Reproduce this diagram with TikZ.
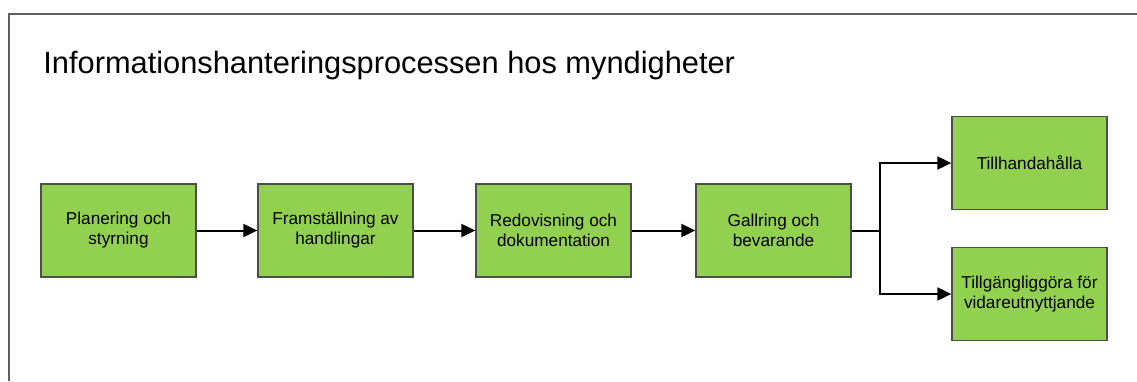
\documentclass[tikz,border=0pt]{standalone}
\usepackage{fontspec}
\setmainfont{Liberation Sans}
\usetikzlibrary{arrows.meta}
\definecolor{boxgreen}{HTML}{92D050}
\definecolor{boxline}{HTML}{4D4D4D}
\definecolor{frameline}{HTML}{5F5F5F}
\begin{document}
\begin{tikzpicture}[x=1pt,y=-1pt,
  thick,main node/.style={rectangle,draw=boxline,line width=1.3pt,fill=boxgreen,
    minimum width=155pt,minimum height=93pt,inner sep=0pt,align=center,
    font=\fontsize{17.2}{20}\selectfont},
  flow/.style={line width=2pt,-{Triangle[length=14pt,width=13pt]}}]

  \useasboundingbox (0,0) rectangle (1137,381);
  \draw[frameline,line width=2pt] (9,381) -- (9,13.5) -- (1137,13.5);

  \node[anchor=base west,inner sep=0pt,font=\fontsize{30.8}{36}\selectfont] (title) at (43,73)
    {Informationshanteringsprocessen hos myndigheter};

  \node[main node] (1) at (118.5,230.5){Planering och\\styrning};
  \node[main node] (2) at (335.5,230.5){Framställning av\\handlingar};
  \node[main node] (3) at (553.5,230.5){Redovisning och\\dokumentation};
  \node[main node] (4) at (773.5,230.5){Gallring och\\bevarande};
  \node[main node] (5) at (1029.5,163){Tillhandahålla};
  \node[main node] (6) at (1029.5,294){Tillgängliggöra för\\vidareutnyttjande};
  \coordinate (fork) at (880,230.5);

  \path[flow]
    (1) edge (2)
    (2) edge (3)
    (3) edge (4);
  \draw[line width=2pt] (4) -- (fork);
  \draw[flow] (fork) |- (5);
  \draw[flow] (fork) |- (6);
\end{tikzpicture}
\end{document}
